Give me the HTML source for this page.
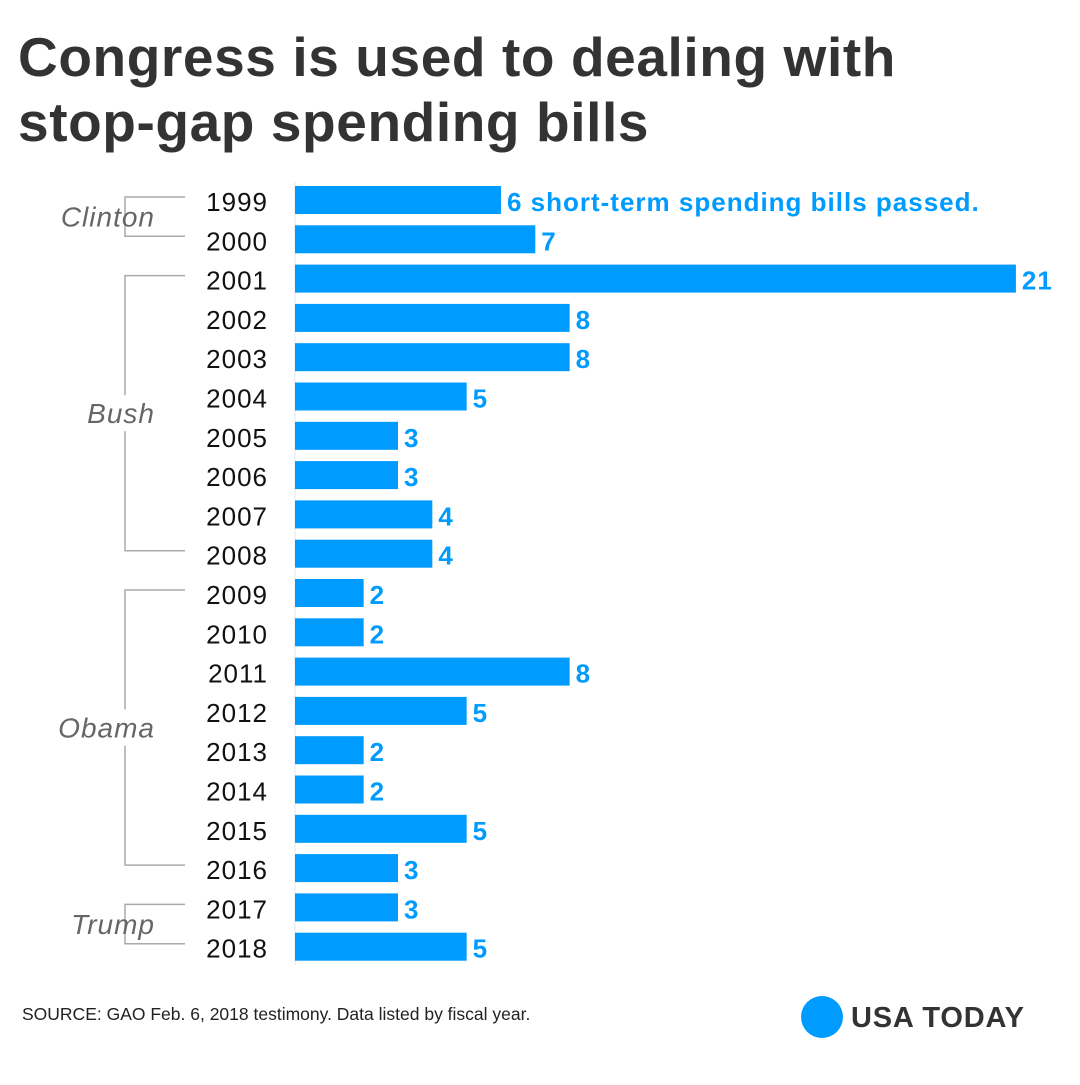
<!DOCTYPE html>
<html><head><meta charset="utf-8"><style>
body{margin:0;width:1080px;height:1080px;background:#fff;font-family:"Liberation Sans",sans-serif;overflow:hidden}
</style></head><body>
<svg width="1080" height="1080" xmlns="http://www.w3.org/2000/svg">
<text x="18" y="76" font-size="55" font-weight="bold" fill="#333" letter-spacing="0.6">Congress is used to dealing with</text>
<text x="18" y="141" font-size="55" font-weight="bold" fill="#333" letter-spacing="0.6">stop-gap spending bills</text>
<line x1="295" y1="182" x2="295" y2="965" stroke="#dde8f0" stroke-width="1"/>
<g id="bars"></g>
<g id="brackets" stroke="#aaa" stroke-width="1.5" fill="none"></g>
<text x="22" y="1020" font-size="17.5" fill="#222">SOURCE: GAO Feb. 6, 2018 testimony. Data listed by fiscal year.</text>
<circle cx="822" cy="1017" r="21" fill="#009bff"/>
<text x="851" y="1027" font-size="29" font-weight="bold" fill="#333" letter-spacing="0.8">USA TODAY</text>
</svg>
<script>
const years=["1999","2000","2001","2002","2003","2004","2005","2006","2007","2008","2009","2010","2011","2012","2013","2014","2015","2016","2017","2018"];
const values=[6,7,21,8,8,5,3,3,4,4,2,2,8,5,2,2,5,3,3,5];
const presidents=["Clinton","Bush","Obama","Trump"];
const presStart=[0,2,10,18];
const presEnd=[1,9,17,19];
const NS="http://www.w3.org/2000/svg";
const x0=295,unit=34.33,y0=200,step=39.3,bh=28;
const xs=v=>v*unit, ys=i=>y0+i*step;
const g=document.getElementById('bars');
function mk(t,a){const e=document.createElementNS(NS,t);for(const k in a)e.setAttribute(k,a[k]);return e;}
values.forEach((v,i)=>{
 const y=ys(i);
 const r=mk('rect',{x:x0,y:y-bh/2,width:xs(v),height:bh,fill:'#009bff'});
 
 
 g.appendChild(r);
 const yl=mk('text',{x:268,y:y+11,'font-size':26,'letter-spacing':1,'text-anchor':'end',fill:'#111'});
 yl.textContent=years[i];
 
 
 g.appendChild(yl);
 const vl=mk('text',{x:x0+xs(v)+6,y:y+11,'font-size':26,'font-weight':'bold','letter-spacing':1,fill:'#009bff'});
 vl.textContent=i===0?v+' short-term spending bills passed.':v;
 
 
 g.appendChild(vl);
});
const b=document.getElementById('brackets');
presidents.forEach((p,k)=>{
 const ya=ys(presStart[k])-3,yb=ys(presEnd[k])-3;
 const pa=mk('path',{d:`M185 ${ya}H125V${yb}H185`});
 
 
 b.appendChild(pa);
 const ym=(ya+yb)/2;
 if(presEnd[k]-presStart[k]>1){
  const bg=mk('rect',{x:40,y:ym-18,width:120,height:36,fill:'#fff',stroke:'none'});
  
  
  b.appendChild(bg);
 }
 const t=mk('text',{x:155,y:ym+10,'font-size':28,'font-style':'italic','letter-spacing':1,'text-anchor':'end',fill:'#666',stroke:'none'});
 t.textContent=p;
 
 
 b.appendChild(t);
});
</script>
</body></html>
